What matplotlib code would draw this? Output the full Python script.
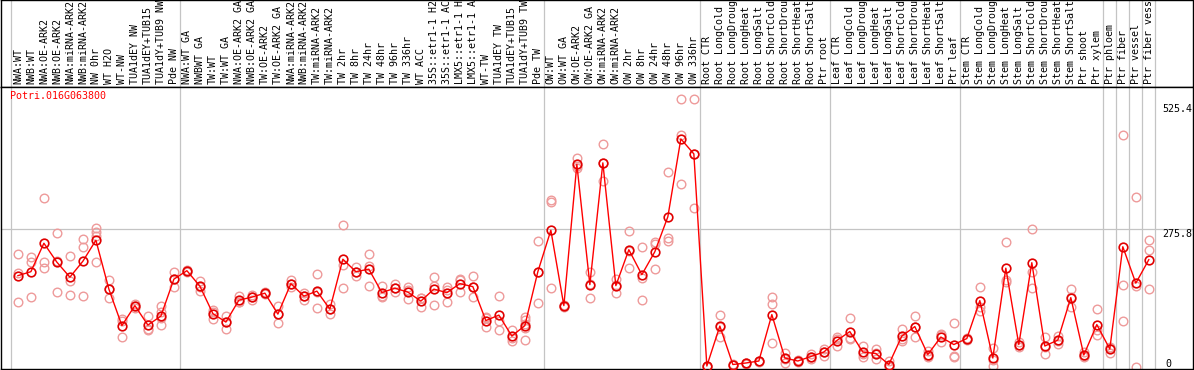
import matplotlib
matplotlib.use("Agg")
import matplotlib.pyplot as plt

# Colonne del grafico (etichette dei campioni)
labels = [
    "NWA:WT", "NWB:WT", "NWA:OE-ARK2", "NWB:OE-ARK2", "NWA:miRNA-ARK2", "NWB:miRNA-ARK2",
    "NW 0hr", "WT H2O", "WT-NW", "TUA1dEY NW", "TUA1dEY+TUB15 NW", "TUA1dY+TUB9 NW", "Pde NW",
    "NWA:WT GA", "NWBWT GA", "TW:WT", "TW:WT GA", "NWA:OE-ARK2 GA", "NWB:OE-ARK2 GA",
    "TW:OE-ARK2", "TW:OE-ARK2 GA", "NWA:miRNA-ARK2", "NWB:miRNA-ARK2", "TW:miRNA-ARK2",
    "TW:miRNA-ARK2", "TW 2hr", "TW 8hr", "TW 24hr", "TW 48hr", "TW 96hr", "TW 336hr", "WT ACC",
    "35S::etr1-1 H2O", "35S::etr1-1 ACC", "LMX5::etr1-1 H2O", "LMX5::etr1-1 ACC", "WT-TW",
    "TUA1dEY TW", "TUA1dEY+TUB15 TW", "TUA1dY+TUB9 TW", "Pde TW",
    "OW:WT", "OW:WT GA", "OW:OE-ARK2", "OW:OE-ARK2 GA", "OW:miRNA-ARK2", "OW:miRNA-ARK2",
    "OW 2hr", "OW 8hr", "OW 24hr", "OW 48hr", "OW 96hr", "OW 336hr",
    "Root CTR", "Root LongCold", "Root LongDrought", "Root LongHeat", "Root LongSalt",
    "Root ShortCold", "Root ShortDrought", "Root ShortHeat", "Root ShortSalt", "Ptr root",
    "Leaf CTR", "Leaf LongCold", "Leaf LongDrought", "Leaf LongHeat", "Leaf LongSalt",
    "Leaf ShortCold", "Leaf ShortDrought", "Leaf ShortHeat", "Leaf ShortSalt", "Ptr leaf",
    "Stem CTR", "Stem LongCold", "Stem LongDrought", "Stem LongHeat", "Stem LongSalt",
    "Stem ShortCold", "Stem ShortDrought", "Stem ShortHeat", "Stem ShortSalt", "Ptr shoot",
    "Ptr xylem", "Ptr phloem", "Ptr fiber", "Ptr vessel", "Ptr fiber vessel",
]

# Valori medi
means = [
    182, 190, 247, 209, 179, 211, 253, 155, 82, 122,
    83, 101, 175, 192, 161, 106, 89, 133, 139, 147,
    105, 166, 141, 151, 115, 215, 190, 195, 148, 157,
    149, 131, 155, 148, 166, 160, 92, 103, 61, 82,
    190, 273, 122, 405, 164, 408, 162, 234, 184, 230,
    300, 456, 426, 1, 81, 4, 7, 11, 104, 17,
    11, 20, 29, 52, 70, 29, 26, 4, 61, 80,
    24, 59, 44, 56, 132, 17, 197, 44, 208, 41,
    53, 138, 23, 84, 35, 240, 167, 214,
]

# Repliche
replicates = [
    [226, 188, 130], [219, 209, 140], [337, 209, 198], [267, 149, 211], [221, 144, 172],
    [255, 239, 142], [277, 270, 262, 209], [173, 137, 155], [95, 60, 91], [118, 122, 126],
    [101, 75, 73], [122, 110, 97, 83], [190, 160, 175], [190, 192, 194], [172, 152, 159],
    [113, 95, 110], [102, 76, 89], [141, 129, 129], [144, 139, 134], [145, 147, 149],
    [122, 87, 106], [173, 159, 166], [147, 134, 142], [186, 117, 150], [125, 105, 115],
    [283, 203, 158], [199, 182, 189], [225, 202, 162], [162, 140, 142], [165, 149, 157],
    [159, 135, 153], [137, 119, 137], [180, 162, 124], [160, 130, 154], [175, 149, 174],
    [182, 139, 159], [99, 80, 97], [142, 92, 73], [74, 51, 58], [99, 94, 86, 78, 53],
    [252, 128, 190], [334, 330, 157], [120, 122, 124], [417, 397, 401], [189, 137, 166],
    [445, 372, 407], [175, 147, 164], [272, 198, 232], [240, 177, 133], [249, 245, 195],
    [390, 257, 251], [536, 464, 365], [536, 317, 425], [0, 1, 2], [104, 59, 80],
    [3, 4, 5], [6, 7, 8], [10, 11, 12], [139, 125, 48], [28, 7, 16],
    [9, 11, 13], [25, 20, 15], [22, 30, 35], [59, 42, 55], [97, 55, 58],
    [42, 19, 26], [35, 15, 28], [11, 1, 0], [76, 55, 52], [101, 59, 80],
    [32, 19, 21], [65, 49, 63], [88, 22, 20], [54, 56, 58], [160, 119, 112],
    [37, 1, 13], [250, 173, 169], [49, 44, 39], [275, 189, 157], [59, 25, 39],
    [62, 45, 52], [155, 120, 139], [29, 19, 21], [115, 63, 74], [40, 37, 27],
    [464, 163, 92], [340, 161, 0], [254, 234, 155],
]

# Separatori tra i gruppi di campioni
group_bounds = [-0.5, 12.5, 40.5, 52.5, 62.5, 72.5, 83.5, 84.5, 85.5, 86.5, 87.5]
tick_values = [0, 275.8, 525.4]
gene = "Potri.016G063800"

W, H = 1194, 370
fig = plt.figure(figsize=(W / 100, H / 100), dpi=100)


def px_axes(x0, y0, x1, y1):
    return fig.add_axes([x0 / W, 1 - y1 / H, (x1 - x0) / W, (y1 - y0) / H])


header = px_axes(1, 0.5, 1193, 86.5)
ax = px_axes(1, 86.5, 1193, 369)

mono = "DejaVu Sans Mono"
grid_col = "#c4c4c4"
xlim = (-1.3, 90.4)

for a in (header, ax):
    a.set_xlim(*xlim)
    a.set_xticks([])
    a.set_yticks([])
    for s in a.spines.values():
        s.set_color("black")
        s.set_linewidth(1.0)
    for b in group_bounds:
        a.axvline(b, color=grid_col, lw=0.9, zorder=0)

# le etichette lunghe vengono tagliate a 14 caratteri, come nell'originale
header.set_ylim(0, 1)
for i, lab in enumerate(labels):
    header.text(i, 0.03, lab[:14].rstrip(), rotation=90, ha="center", va="bottom",
                family=mono, fontsize=7.2, color="black")

ax.set_ylim(-5, 561)
ax.axhline(275.8, color=grid_col, lw=0.9, zorder=0)

# repliche
for i, reps in enumerate(replicates):
    ax.plot([i] * len(reps), reps, linestyle="none", marker="o", ms=6.2,
            mfc="none", mec="#ee9a9a", mew=1.0, zorder=2)

# medie
x = list(range(len(means)))
ax.plot(x, means, color="#ff0000", lw=1.0, zorder=3)
ax.plot(x, means, linestyle="none", marker="o", ms=6.2, mfc="none",
        mec="#e00000", mew=1.2, zorder=4)

ax.text(0.0075, 0.966, gene, transform=ax.transAxes, ha="left", va="center",
        family=mono, fontsize=7.2, color="#ff0000")

ytr = ax.get_yaxis_transform()
for v in tick_values:
    lab = "0" if v == 0 else f"{v}"
    va = "baseline" if v == 0 else "top"
    xpos = 0.9765 if v == 0 else 0.9745
    ax.text(xpos, v, lab, transform=ytr, ha="left", va=va,
            family=mono, fontsize=7.2, color="black", zorder=5)

fig.savefig("out.png", dpi=100)
